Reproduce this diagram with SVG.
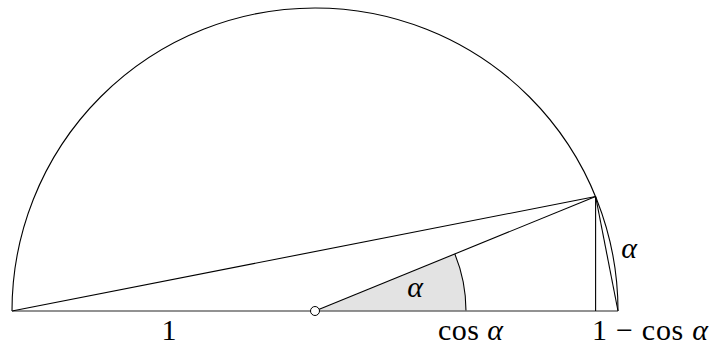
<svg xmlns="http://www.w3.org/2000/svg" width="726" height="346" viewBox="0 0 726 346">
<style>
.ln{fill:none;stroke:#000;stroke-width:1.1}
.base{fill:none;stroke:#6e6e6e;stroke-width:1.4}
.t{font-family:"Liberation Serif","Times New Roman",serif;font-size:30px;fill:#000}
.it{font-style:italic}
</style>
<rect width="726" height="346" fill="#fff"/>
<g id="sector">
<path d="M315,311 L466,311 A151,151 0 0 0 454.8,253.9 Z" fill="#e3e3e3" stroke="none"/>
<path class="ln" d="M466,311 A151,151 0 0 0 454.8,253.9"/>
</g>
<g id="semicircle">
<path class="ln" d="M12,311 A303,303 0 0 1 618,311"/>
</g>
<g id="connectors">
<line class="base" x1="12" y1="311" x2="618" y2="311"/>
<line class="ln" x1="12" y1="311" x2="595.6" y2="196.5"/>
<line class="ln" x1="315" y1="311" x2="595.6" y2="196.5"/>
<line class="ln" x1="595.6" y1="196.5" x2="595.6" y2="311"/>
<line class="ln" x1="595.6" y1="196.5" x2="618" y2="311"/>
</g>
<g id="center">
<circle cx="315" cy="311" r="4.5" fill="#fff" stroke="#000" stroke-width="1"/>
</g>
<g id="labels">
<text class="t" x="169" y="340" text-anchor="middle">1</text>
<text class="t it" x="415" y="297" text-anchor="middle">α</text>
<text class="t it" x="629" y="258" text-anchor="middle">α</text>
<text class="t" x="438" y="340" textLength="65" lengthAdjust="spacing">cos <tspan class="it">α</tspan></text>
<text class="t" x="592" y="340" textLength="116" lengthAdjust="spacing">1 − cos <tspan class="it">α</tspan></text>
</g>
</svg>
